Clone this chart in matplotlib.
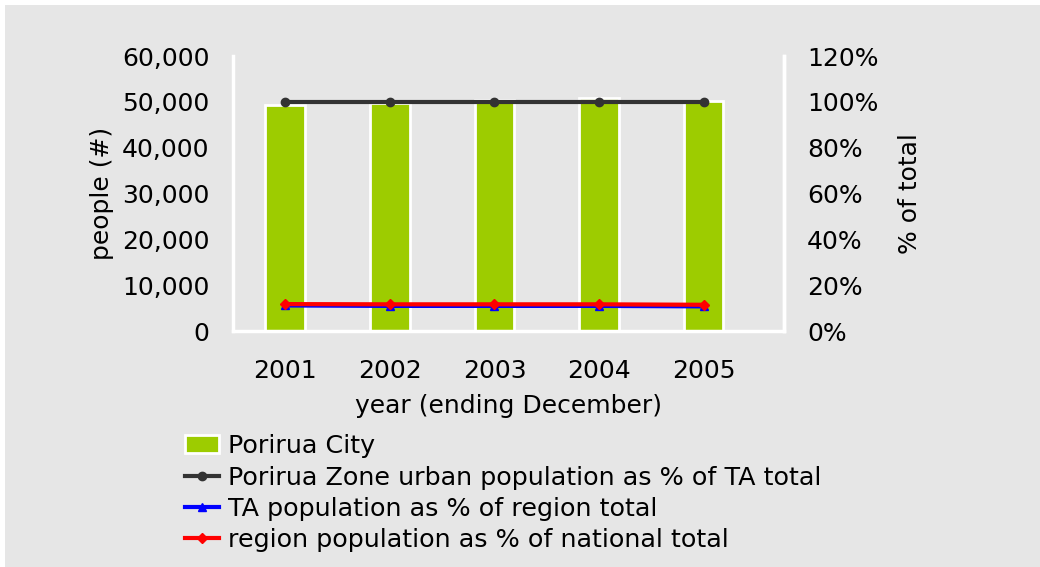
import matplotlib
matplotlib.use('Agg')
import matplotlib.pyplot as plt
from matplotlib.patches import Rectangle
from matplotlib.ticker import FuncFormatter
import numpy as np

# dados
anos = ['2001', '2002', '2003', '2004', '2005']
porirua_city = [49350, 49850, 50430, 50870, 50220]
zona_urbana_pct = [100, 100, 100, 100, 100]
ta_regiao_pct = [11.2, 11.0, 11.0, 11.0, 10.8]
regiao_nacional_pct = [11.8, 11.7, 11.7, 11.7, 11.5]

plt.rcParams['font.family'] = 'DejaVu Sans'
plt.rcParams['font.size'] = 18

fundo = '#e6e6e6'
fig = plt.figure(figsize=(10.4, 5.67), dpi=100, facecolor='white')
fig.patches.append(Rectangle((5 / 1040, 0), 1, 1 - 5 / 567, transform=fig.transFigure,
                             facecolor=fundo, edgecolor='none', zorder=-10))

ax = fig.add_axes([0.224, 0.416, 0.530, 0.485])
ax.patch.set_alpha(0)
x = np.arange(len(anos))
ax.bar(x, porirua_city, width=0.38, color='#9dcc00', edgecolor='white', linewidth=2,
       label='Porirua City', zorder=2)
ax.set_ylim(0, 60000)
ax.set_yticks(range(0, 60001, 10000))
ax.yaxis.set_major_formatter(FuncFormatter(lambda v, p: f'{int(v):,}'))
ax.set_xlim(-0.5, 4.77)
ax.set_xticks(x)
ax.set_xticklabels(anos)
ax.tick_params(axis='x', length=0, pad=20)
ax.tick_params(axis='y', length=0, pad=17)
ax.spines['top'].set_visible(False)
for s in ['left', 'bottom', 'right']:
    ax.spines[s].set_color('white')
    ax.spines[s].set_linewidth(2.5)
ax.set_ylabel('people (#)', labelpad=6)
ax.set_xlabel('year (ending December)', labelpad=8)

ax2 = ax.twinx()
ax2.set_ylim(0, 120)
ax2.set_yticks(range(0, 121, 20))
ax2.yaxis.set_major_formatter(FuncFormatter(lambda v, p: f'{int(v)}%'))
ax2.tick_params(length=0, pad=16.5)
for s in ['top', 'left', 'bottom']:
    ax2.spines[s].set_visible(False)
ax2.spines['right'].set_color('white')
ax2.spines['right'].set_linewidth(2.5)
ax2.set_ylabel('% of total', labelpad=14)

ax2.plot(x, zona_urbana_pct, color='#333333', lw=3, marker='o', ms=6,
         label='Porirua Zone urban population as % of TA total')
ax2.plot(x, ta_regiao_pct, color='#0000ff', lw=3, marker='^', ms=6,
         label='TA population as % of region total')
ax2.plot(x, regiao_nacional_pct, color='#ff0000', lw=3, marker='D', ms=5,
         label='region population as % of national total')

h1, l1 = ax.get_legend_handles_labels()
h2, l2 = ax2.get_legend_handles_labels()
leg = fig.legend(h1 + h2, l1 + l2, loc='upper left', bbox_to_anchor=(0.168, 0.252),
                 frameon=False, handlelength=1.35, handletextpad=0.35, labelspacing=0.29,
                 borderaxespad=0, fontsize=18.3)

fig.savefig('out.png', dpi=100, facecolor='white')
